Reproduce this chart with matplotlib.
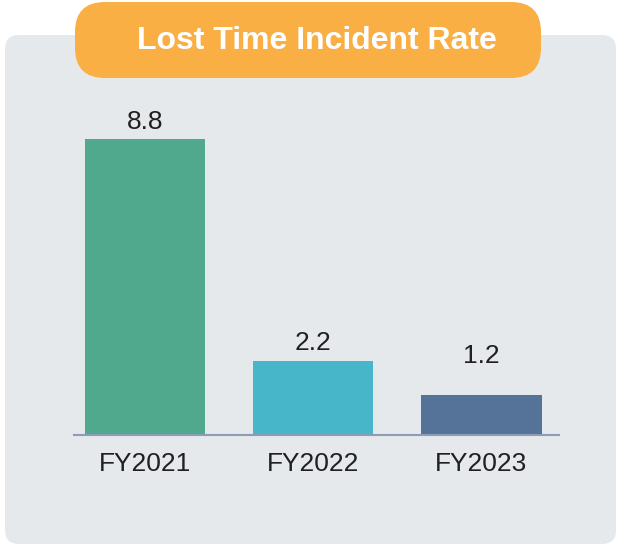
import matplotlib.pyplot as plt
from matplotlib.patches import FancyBboxPatch

plt.rcParams['font.family'] = ['Liberation Sans', 'DejaVu Sans']

# chart data
years = ["FY2021", "FY2022", "FY2023"]
rates = [8.8, 2.2, 1.2]
bar_colors = ["#50A98D", "#47B6C9", "#557298"]
title = "Lost Time Incident Rate"
label_gap = [3.5, 4.5, 19]  # pts above bar, last label sits higher in the original

W, H = 618, 546
fig = plt.figure(figsize=(W / 100, H / 100), dpi=100)
fig.patch.set_facecolor("white")

# background layer in pixel coordinates
bg = fig.add_axes([0, 0, 1, 1], zorder=0)
bg.set_xlim(0, W)
bg.set_ylim(H, 0)
bg.axis("off")
bg.add_patch(FancyBboxPatch((5, 35), 611, 509, boxstyle="round,pad=0,rounding_size=14",
                            facecolor="#E5E9EC", edgecolor="none"))
bg.add_patch(FancyBboxPatch((75, 2), 466, 76, boxstyle="round,pad=0,rounding_size=30",
                            facecolor="#F9AF43", edgecolor="none"))
bg.text(317, 41, title, ha="center", va="center", color="white",
        fontsize=23, fontweight="bold")

# bar chart
ax = fig.add_axes([74 / W, 111 / H, 485 / W, 336 / H], zorder=1)
ax.patch.set_alpha(0)
x = range(len(years))
bars = ax.bar(x, rates, width=0.714, color=bar_colors)
ax.set_xlim(-0.423, 2.461)
ax.set_ylim(0, 10)

for b, v, g in zip(bars, rates, label_gap):
    ax.annotate(f"{v}", (b.get_x() + b.get_width() / 2, v), xytext=(0, g),
                textcoords="offset points", ha="center", va="bottom",
                fontsize=19, color="#231F20")

ax.set_xticks(list(x))
ax.set_xticklabels(years, fontsize=19, color="#231F20")
ax.tick_params(axis="x", length=0, pad=12)
ax.set_yticks([])
for s in ["top", "right", "left"]:
    ax.spines[s].set_visible(False)
ax.spines["bottom"].set_color("#8C9DB8")
ax.spines["bottom"].set_linewidth(1.5)

fig.savefig("out.png", dpi=100)
